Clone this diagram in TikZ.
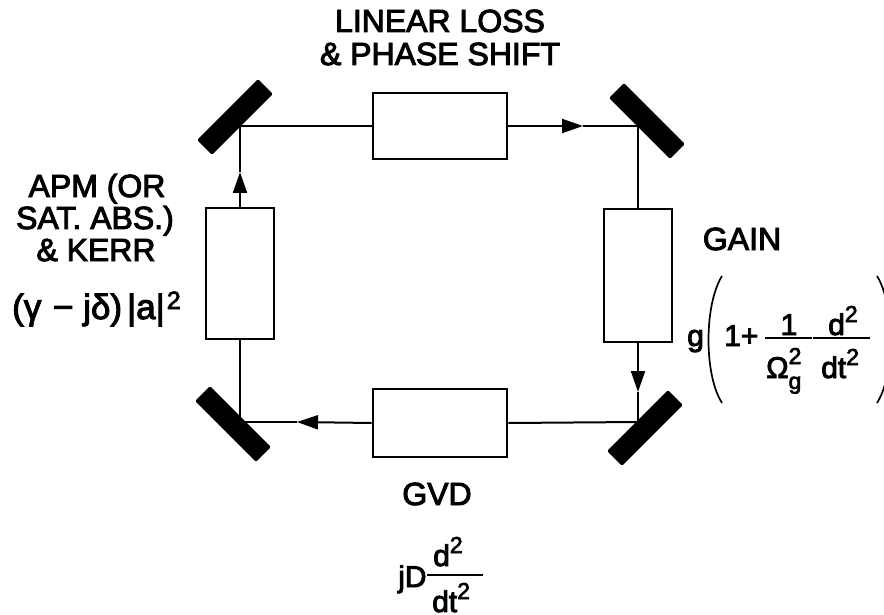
\documentclass[tikz,border=0pt]{standalone}
\usepackage{fontspec}
\setmainfont{Liberation Sans}[FakeBold=3]
\usetikzlibrary{arrows.meta}
\newcommand{\supr}[2]{\raisebox{#1}{\fontsize{#2}{#2}\selectfont 2}}
\begin{document}
\begin{tikzpicture}[x=1pt,y=-1pt,
  lbl/.style={font=\fontsize{32}{34}\selectfont, inner sep=0pt},
  mth/.style={font=\fontsize{30}{32}\selectfont, inner sep=0pt},
  box/.style={draw, line width=2.8pt, fill=white, inner sep=0pt},
  mirror/.style={fill=black, minimum width=86pt, minimum height=21pt, inner sep=0pt, rounded corners=1.5pt},
  wire/.style={line width=2pt},
  arr/.style={wire, -{Triangle[length=21pt,width=14pt]}},
  fbar/.style={line width=1.6pt},
  paren/.style={line width=1.7pt}
]
\useasboundingbox (0,0) rectangle (884,615);
% boxes
\node[box, minimum width=134pt, minimum height=66pt] (lin) at (440,126) {};
\node[box, minimum width=68pt, minimum height=131pt] (apm) at (240,273.5) {};
\node[box, minimum width=68pt, minimum height=133pt] (gain) at (638,275.5) {};
\node[box, minimum width=134pt, minimum height=68pt] (gvd) at (440,423) {};
% corners and arrow tips
\coordinate (cTL) at (240,126);
\coordinate (cTR) at (638,126);
\coordinate (cBL) at (240,422);
\coordinate (cBR) at (638,422);
\coordinate (aT) at (583,126);
\coordinate (aR) at (638,392);
\coordinate (aB) at (297,422);
\coordinate (aL) at (240,172);
% wires
\draw[wire] (cTL) -- (lin.west);
\draw[arr] (lin.east) -- (aT);
\draw[wire] (aT) -- (cTR);
\draw[wire] (cTR) -- (gain.north);
\draw[arr] (gain.south) -- (aR);
\draw[wire] (aR) -- (cBR);
\draw[wire] (cBR) -- (gvd.east);
\draw[arr] (gvd.west) -- (aB);
\draw[wire] (aB) -- (cBL);
\draw[wire] (cBL) -- (apm.south);
\draw[arr] (apm.north) -- (aL);
\draw[wire] (aL) -- (cTL);
% mirrors
\node[mirror, rotate=45] (mTL) at (235,117) {};
\node[mirror, rotate=-45] (mTR) at (647,121) {};
\node[mirror, rotate=-45] (mBL) at (233,424) {};
\node[mirror, rotate=45] (mBR) at (645,428) {};
% labels
\node[lbl, anchor=base] (t1) at (440,32) {LINEAR LOSS};
\node[lbl, anchor=base] (t2) at (440,65) {\& PHASE SHIFT};
\node[lbl, anchor=base] (a1) at (97,197) {APM (OR};
\node[lbl, anchor=base] (a2) at (95,229) {SAT. ABS.)};
\node[lbl, anchor=base] (a3) at (96,261) {\& KERR};
\node[lbl, font=\fontsize{35}{37}\selectfont, anchor=base west] (a4) at (12,319) {(γ\hspace{2pt} − jδ)\hspace{5pt}|a|\hspace{2pt}\supr{10pt}{25}};
\node[lbl, anchor=base] (g1) at (742,250) {GAIN};
\node[mth, anchor=base west] (g2) at (687,346) {g};
\node[mth, anchor=base west] (g3) at (724,346) {1+};
\node[mth, anchor=base] (g4) at (789,335) {1};
\draw[fbar] (765,338) -- (812,338);
\node[mth, anchor=base west] (g5) at (766,378) {Ω\rlap{\supr{14pt}{23}}\raisebox{-11pt}{\fontsize{23}{23}\selectfont g}};
\node[mth, anchor=base west] (g6) at (828,335) {d\supr{13pt}{23}};
\draw[fbar] (813,338) -- (870,338);
\node[mth, anchor=base west] (g7) at (821,378) {dt\supr{13pt}{23}};
\draw[paren] (722,276) .. controls (704,305) and (704,375) .. (722,403);
\draw[paren] (877,276) .. controls (895,305) and (895,375) .. (877,403);
\node[lbl, anchor=base] (v1) at (437,505) {GVD};
\node[mth, anchor=base west] (v2) at (398,587) {jD};
\node[mth, anchor=base west] (v3) at (433,566) {d\supr{13pt}{23}};
\draw[fbar] (427,575) -- (483,575);
\node[mth, anchor=base west] (v4) at (432,612) {dt\supr{13pt}{23}};
\end{tikzpicture}
\end{document}
